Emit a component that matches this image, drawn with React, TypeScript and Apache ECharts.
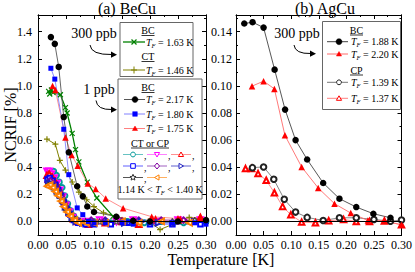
import React, { useEffect, useRef } from 'react';
import * as echarts from 'echarts';

const FONT = "'Liberation Serif', serif";

// ---------- (a) BeCu ----------
// 300 ppb, BC, T_F = 1.63 K (green crosses)
const becu300BC: number[][] = [[0.019,0.96],[0.021,0.94],[0.024,0.97],[0.027,0.95],[0.040,0.935],[0.049,0.84],[0.052,0.80],[0.061,0.65],[0.067,0.53],[0.073,0.44],[0.088,0.29],[0.105,0.173],[0.134,0.037],[0.17,-0.01],[0.2,-0.01],[0.25,0.0],[0.3,0.0]];
// 300 ppb, CT, T_F = 1.46 K (olive plus)
const becu300CT: number[][] = [[0.016,0.607],[0.031,0.57],[0.039,0.45],[0.049,0.378],[0.061,0.291],[0.073,0.217],[0.087,0.16],[0.1,0.11],[0.117,0.064],[0.14,0.035],[0.17,0.01],[0.197,0.002],[0.218,-0.06],[0.27,0.03],[0.3,0.01]];
// 1 ppb, BC
const becu1BC217: number[][] = [[0.023,1.36],[0.030,1.31],[0.037,1.14],[0.046,0.77],[0.055,0.51],[0.070,0.26],[0.080,0.185],[0.088,0.11],[0.100,0.07],[0.140,0.035],[0.17,0.005],[0.2,0.0],[0.25,0.0],[0.3,0.01]];
const becu1BC180: number[][] = [[0.023,1.13],[0.030,1.05],[0.046,0.68],[0.055,0.345],[0.070,0.10],[0.080,0.05],[0.09,0.0],[0.1,-0.01],[0.12,-0.01],[0.15,-0.01],[0.17,-0.02],[0.2,-0.01],[0.24,-0.01],[0.28,-0.01],[0.3,-0.02]];
const becu1BC175: number[][] = [[0.026,1.0],[0.031,0.97],[0.049,0.62],[0.060,0.49],[0.071,0.41],[0.089,0.28],[0.103,0.24],[0.121,0.17],[0.152,0.098],[0.203,0.035],[0.254,0.02],[0.289,0.03]];
// 1 ppb, CT or CP (1.14 K < T_F < 1.40 K)
const cpTeal: number[][] = [[0.022,0.35],[0.028,0.37],[0.033,0.34],[0.038,0.29],[0.043,0.25],[0.048,0.19],[0.053,0.13],[0.058,0.08],[0.064,0.04],[0.07,0.01],[0.08,-0.01],[0.1,0.0],[0.13,-0.01],[0.16,0.0],[0.19,-0.01],[0.22,0.0],[0.26,-0.01],[0.3,0.0]];
const cpMagenta: number[][] = [[0.016,0.37],[0.02,0.37],[0.024,0.35],[0.029,0.32],[0.034,0.28],[0.039,0.23],[0.044,0.18],[0.05,0.12],[0.056,0.07],[0.062,0.03],[0.07,0.0],[0.085,0.0],[0.11,0.01],[0.14,0.0],[0.17,0.01],[0.21,0.0],[0.25,0.01],[0.29,0.01]];
const cpRedOpen: number[][] = [[0.016,0.34],[0.02,0.35],[0.025,0.33],[0.03,0.3],[0.035,0.26],[0.04,0.22],[0.045,0.17],[0.051,0.11],[0.057,0.06],[0.063,0.02],[0.07,0.0],[0.09,-0.02],[0.12,-0.01],[0.15,0.0],[0.18,-0.02],[0.21,0.01],[0.25,0.01],[0.29,0.03]];
const cpBlueOpen: number[][] = [[0.017,0.31],[0.021,0.32],[0.026,0.3],[0.031,0.27],[0.036,0.23],[0.041,0.19],[0.046,0.14],[0.052,0.09],[0.058,0.05],[0.064,0.01],[0.072,-0.01],[0.085,-0.02],[0.1,-0.02],[0.13,-0.02],[0.16,-0.01],[0.2,-0.02],[0.24,-0.02],[0.29,-0.02]];
const cpPurple: number[][] = [[0.018,0.29],[0.022,0.3],[0.027,0.28],[0.032,0.25],[0.037,0.22],[0.042,0.18],[0.047,0.13],[0.053,0.08],[0.059,0.04],[0.066,0.01],[0.075,0.0],[0.095,0.01],[0.12,0.01],[0.15,0.0],[0.18,0.01],[0.22,0.01],[0.26,0.01]];
const cpViolet: number[][] = [[0.019,0.28],[0.024,0.28],[0.029,0.26],[0.034,0.23],[0.039,0.2],[0.044,0.16],[0.049,0.11],[0.055,0.07],[0.061,0.03],[0.068,0.0],[0.08,-0.01],[0.1,-0.01],[0.125,0.0],[0.155,-0.01],[0.185,0.0],[0.215,-0.01],[0.245,-0.01],[0.28,0.0]];
const cpStar: number[][] = [[0.018,0.27],[0.023,0.27],[0.028,0.25],[0.033,0.22],[0.038,0.19],[0.043,0.15],[0.049,0.1],[0.055,0.06],[0.062,0.03],[0.07,0.01],[0.085,0.0],[0.11,0.0],[0.14,0.0],[0.17,-0.01],[0.2,0.0],[0.24,0.0],[0.28,0.01]];
const cpOrange: number[][] = [[0.017,0.26],[0.021,0.27],[0.026,0.25],[0.031,0.22],[0.036,0.19],[0.041,0.15],[0.046,0.11],[0.052,0.07],[0.058,0.04],[0.065,0.01],[0.072,-0.01],[0.085,-0.01],[0.1,-0.01],[0.12,-0.01],[0.15,0.0],[0.18,-0.01],[0.22,0.0],[0.27,-0.01]];

// ---------- (b) AgCu ----------
const agBC188: number[][] = [[0.015,0.146],[0.03,0.147],[0.05,0.143],[0.07,0.112],[0.089,0.0825],[0.108,0.060],[0.129,0.0457],[0.158,0.0284],[0.1875,0.0168],[0.218,0.0106],[0.249,0.0057],[0.28,0.0027]];
const agBC220: number[][] = [[0.029,0.0998],[0.05,0.1035],[0.0696,0.0978],[0.0887,0.0635],[0.119,0.0402],[0.149,0.0247],[0.1786,0.0131],[0.208,0.0062],[0.239,0.0007],[0.269,0.0005],[0.30,-0.0025]];
const agCP139: number[][] = [[0.0298,0.0397],[0.05,0.0402],[0.0685,0.0311],[0.0875,0.0163],[0.108,0.0069],[0.129,0.003],[0.158,0.0007],[0.1875,0.0027],[0.218,0.0027],[0.25,0.0015],[0.28,0.0002],[0.30,0.001]];
const agCP137: number[][] = [[0.0173,0.039],[0.028,0.039],[0.04,0.0353],[0.0548,0.0304],[0.0696,0.0212],[0.0845,0.0111],[0.0994,0.0049],[0.119,-0.0005],[0.144,-0.001],[0.168,0.0005],[0.195,0.0015],[0.218,0.0],[0.242,0.0],[0.269,0.0003],[0.30,-0.0025]];

// ---------- ticks ----------
const leftYMajor = [0, 0.2, 0.4, 0.6, 0.8, 1.0, 1.2, 1.4];
const leftYMinor = [-0.1, 0.1, 0.3, 0.5, 0.7, 0.9, 1.1, 1.3, 1.5];
const rightYMajor = [0, 0.02, 0.04, 0.06, 0.08, 0.10, 0.12, 0.14];
const rightYMinor = [-0.01, 0.01, 0.03, 0.05, 0.07, 0.09, 0.11, 0.13, 0.15];

const X_SYM = 'path://M0,0L10,10M10,0L0,10';
const PLUS_SYM = 'path://M5,0L5,10M0,5L10,5';
const STAR_SYM = 'path://M5,0L6.2,3.6L10,3.7L7,6L8.1,9.6L5,7.5L1.9,9.6L3,6L0,3.7L3.8,3.6Z';

function mkSeries(name: string, data: number[][], xi: number, yi: number, symbol: string, size: number,
  color: string, lineColor: string, opts: any = {}) {
  const empty = symbol.startsWith('empty') || opts.hollow;
  const strokeSym = symbol === X_SYM || symbol === PLUS_SYM;
  return {
    type: 'line', name, data, xAxisIndex: xi, yAxisIndex: yi,
    symbol, symbolSize: size, symbolRotate: opts.rotate || 0,
    showAllSymbol: true,
    lineStyle: { color: lineColor, width: opts.lw || 0.9 },
    itemStyle: strokeSym
      ? { color: 'rgba(0,0,0,0)', borderColor: color, borderWidth: 1.2 }
      : empty
        ? { color: opts.hollow ? '#fff' : color, borderColor: color, borderWidth: 1 }
        : { color, borderWidth: 0 },
    z: opts.z || 2,
    ...(opts.markZero ? {
      markLine: {
        silent: true, symbol: 'none', animation: false,
        lineStyle: { color: '#000', width: 1, type: 'solid' },
        label: { show: false }, data: [{ yAxis: 0 }],
      },
    } : {}),
  };
}

function xAxes(gridIndex: number) {
  const base = {
    type: 'value', gridIndex, min: 0, max: 0.3, interval: 0.05,
    axisLine: { onZero: false, lineStyle: { color: '#000', width: 1 } },
    axisTick: { inside: true, length: 4, lineStyle: { color: '#000' } },
    minorTick: { show: true, splitNumber: 2, length: 2, lineStyle: { color: '#000' } },
    splitLine: { show: false },
  };
  return [
    { ...base, position: 'bottom', axisLabel: { formatter: (v: number) => v.toFixed(2), fontFamily: FONT, fontSize: 12, color: '#000', margin: 4 } },
    { ...base, position: 'top', axisLabel: { show: false } },
  ];
}

function yAxes(gridIndex: number, min: number, max: number, major: number[], minor: number[], digits: number, margin: number) {
  const mk = (position: string, vals: number[], len: number, label: boolean) => ({
    type: 'value', gridIndex, min, max, position,
    axisLine: { onZero: false, lineStyle: { color: '#000', width: 1 } },
    axisTick: { inside: true, length: len, customValues: vals, lineStyle: { color: '#000' } },
    axisLabel: label
      ? { customValues: vals, formatter: (v: number) => v.toFixed(digits), fontFamily: FONT, fontSize: 12, color: '#000', margin }
      : { show: false },
    splitLine: { show: false },
  });
  return [
    mk('left', major, 4, true),
    mk('left', minor, 2, false),
    mk('right', major, 4, false),
    mk('right', minor, 2, false),
  ];
}

const RICH = {
  i: { fontStyle: 'italic', fontSize: 10, fontFamily: FONT, fill: '#000' },
  s: { fontStyle: 'italic', fontSize: 6.5, fontFamily: FONT, fill: '#000', verticalAlign: 'bottom', lineHeight: 13 },
};

function buildGraphic() {
  const g: any[] = [];
  const Z = 100;
  const text = (x: number, y: number, t: string, opt: any = {}) =>
    g.push({ type: 'text', x, y, z: Z, style: { text: t, fontFamily: FONT, fontSize: 10, fill: '#000', align: 'left', verticalAlign: 'middle', ...opt } });
  const line = (x1: number, y1: number, x2: number, y2: number, stroke: string, lw = 1) =>
    g.push({ type: 'line', z: Z, shape: { x1, y1, x2, y2 }, style: { stroke, lineWidth: lw } });
  const box = (x: number, y: number, w: number, h: number) =>
    g.push({ type: 'rect', z: Z - 1, shape: { x, y, width: w, height: h }, style: { fill: '#fff', stroke: '#666', lineWidth: 1 } });
  const header = (cx: number, cy: number, t: string, w: number) => {
    text(cx, cy, t, { align: 'center' });
    line(cx - w / 2, cy + 5, cx + w / 2, cy + 5, '#000', 0.8);
  };
  const tri = (cx: number, cy: number, r: number, angle: number) => {
    const pts: number[][] = [];
    for (let k = 0; k < 3; k++) {
      const a = angle + (k * 2 * Math.PI) / 3;
      pts.push([cx + r * Math.cos(a), cy + r * Math.sin(a)]);
    }
    return pts;
  };
  const marker = (kind: string, cx: number, cy: number, c: string, filled: boolean) => {
    const style = filled ? { fill: c, stroke: c, lineWidth: 0.5 } : { fill: '#fff', stroke: c, lineWidth: 1 };
    if (kind === 'circle') g.push({ type: 'circle', z: Z + 1, shape: { cx, cy, r: filled ? 3 : 2.4 }, style });
    else if (kind === 'square') g.push({ type: 'rect', z: Z + 1, shape: { x: cx - 2.3, y: cy - 2.3, width: 4.6, height: 4.6 }, style });
    else if (kind === 'up') g.push({ type: 'polygon', z: Z + 1, shape: { points: tri(cx, cy + 0.5, 3, -Math.PI / 2) }, style });
    else if (kind === 'down') g.push({ type: 'polygon', z: Z + 1, shape: { points: tri(cx, cy - 0.5, 3, Math.PI / 2) }, style });
    else if (kind === 'right') g.push({ type: 'polygon', z: Z + 1, shape: { points: tri(cx - 0.5, cy, 3, 0) }, style });
    else if (kind === 'left') g.push({ type: 'polygon', z: Z + 1, shape: { points: tri(cx + 0.5, cy, 3, Math.PI) }, style });
    else if (kind === 'diamond') g.push({ type: 'polygon', z: Z + 1, shape: { points: [[cx, cy - 3], [cx + 2.5, cy], [cx, cy + 3], [cx - 2.5, cy]] }, style });
    else if (kind === 'star') {
      const pts: number[][] = [];
      for (let k = 0; k < 10; k++) {
        const r = k % 2 === 0 ? 3.2 : 1.4;
        const a = -Math.PI / 2 + (k * Math.PI) / 5;
        pts.push([cx + r * Math.cos(a), cy + r * Math.sin(a)]);
      }
      g.push({ type: 'polygon', z: Z + 1, shape: { points: pts }, style });
    } else if (kind === 'x') {
      line(cx - 2.5, cy - 2.5, cx + 2.5, cy + 2.5, c, 1.2);
      line(cx + 2.5, cy - 2.5, cx - 2.5, cy + 2.5, c, 1.2);
    } else if (kind === 'plus') {
      line(cx - 3, cy, cx + 3, cy, c, 1);
      line(cx, cy - 3.5, cx, cy + 3.5, c, 1);
    }
  };
  const entry = (x1: number, x2: number, mx: number, y: number, kind: string, mc: string, lc: string, filled: boolean, lw = 1) => {
    line(x1, y, x2, y, lc, lw);
    marker(kind, mx, y, mc, filled);
  };
  const tf = (x: number, y: number, val: string) => text(x, y, `{i|T}{s|F} = ${val} K`, { rich: RICH });

  // Titles and axis names
  text(127, 8, '(a) BeCu', { fontSize: 16, align: 'center' });
  text(325, 8, '(b) AgCu', { fontSize: 16, align: 'center' });
  g.push({ type: 'text', x: 10, y: 125, rotation: Math.PI / 2, z: Z, style: { text: 'NCRIF [%]', fontFamily: FONT, fontSize: 16, fill: '#000', align: 'center', verticalAlign: 'middle' } });
  text(221, 259, 'Temperature [K]', { fontSize: 16, align: 'center' });

  // annotations with curved arrows
  const arrow = (x1: number, y1: number, cx: number, cy: number, x2: number, y2: number) => {
    g.push({ type: 'bezierCurve', z: Z, shape: { x1, y1, x2, y2, cpx1: cx, cpy1: cy }, style: { stroke: '#000', lineWidth: 1, fill: 'none' } });
    g.push({ type: 'polygon', z: Z, shape: { points: [[x2 - 1, y2 - 3], [x2 + 5, y2 + 0.3], [x2 - 1, y2 + 3.3]] }, style: { fill: '#000' } });
  };
  text(94, 33, '300 ppb', { fontSize: 14, align: 'center' });
  arrow(90, 45, 91, 55, 112, 54.5);
  text(99, 89, '1 ppb', { fontSize: 14, align: 'center' });
  arrow(96, 100.5, 97, 110, 112, 109.5);
  text(297, 33, '300 ppb', { fontSize: 14, align: 'center' });
  arrow(294, 45, 295, 54, 311, 53.5);

  // Left box 1 (300 ppb)
  box(120, 22.5, 73, 54);
  header(148, 30.5, 'BC', 13);
  entry(123, 145, 134, 42, 'x', '#008000', '#008000', true, 1.3);
  tf(146, 42, '1.63');
  header(148, 56.5, 'CT', 13);
  entry(123, 145, 134, 70, 'plus', '#808000', '#808000', true, 1);
  tf(146, 70, '1.46');

  // Left box 2 (1 ppb)
  box(118, 79, 84, 120);
  header(148, 87.5, 'BC', 13);
  entry(124, 145, 135, 99.5, 'circle', '#000', '#555', true);
  tf(146, 99.5, '2.17');
  entry(124, 145, 135, 114, 'square', '#0000ff', '#8080ff', true);
  tf(146, 114, '1.80');
  entry(124, 145, 135, 128.5, 'up', '#ff0000', '#ff8080', true);
  tf(146, 128.5, '1.75');
  header(150, 143, 'CT or CP', 38);
  const rows: [string, string, string][][] = [
    [['circle', '#009999', '#66c2c2'], ['down', '#ff00ff', '#ff80ff'], ['up', '#ff0000', '#ff9090']],
    [['square', '#0000ff', '#6060ff'], ['diamond', '#8000a0', '#a060c0'], ['right', '#2020c0', '#6060d0']],
    [['star', '#333333', '#555555'], ['left', '#ff8000', '#ffb060']],
  ];
  const rowY = [154.5, 166, 177.5];
  rows.forEach((row, ri) => {
    row.forEach((it, k) => {
      const x0 = 123 + k * 24;
      entry(x0, x0 + 20, x0 + 10, rowY[ri], it[0], it[1], it[2], false);
      if (ri < 2 || k === 0) text(x0 + 21, rowY[ri] + 1, ',', { fontSize: 10 });
    });
  });
  text(160, 189.5, '1.14 K < {i|T}{s|F} < 1.40 K', { rich: RICH, align: 'center' });

  // Right box
  box(322.5, 21.5, 78, 88);
  header(356.5, 30, 'BC', 13);
  entry(327, 348, 339, 41.7, 'circle', '#000', '#444', true);
  tf(351, 41.7, '1.88');
  entry(327, 348, 339, 54, 'up', '#ff0000', '#ff6a6a', true);
  tf(351, 54, '2.20');
  header(356.5, 70, 'CP', 13);
  entry(327, 348, 339, 82.3, 'circle', '#222', '#777', false);
  tf(351, 82.3, '1.39');
  entry(327, 348, 339, 98.3, 'up', '#ff0000', '#ff8080', false);
  tf(351, 98.3, '1.37');

  return g;
}

export default function App() {
  const ref = useRef<HTMLDivElement>(null);
  useEffect(() => {
    if (!ref.current) return;
    const chart = echarts.init(ref.current, undefined, { renderer: 'svg' });
    const option: any = {
      animation: false,
      backgroundColor: '#fff',
      textStyle: { fontFamily: FONT },
      grid: [
        { left: 38, top: 15, width: 168, height: 220, containLabel: false },
        { left: 236, top: 15, width: 168, height: 220, containLabel: false },
      ],
      xAxis: [...xAxes(0), ...xAxes(1)],
      yAxis: [
        ...yAxes(0, -0.1, 1.523, leftYMajor, leftYMinor, 1, 6),
        ...yAxes(1, -0.01, 0.1523, rightYMajor, rightYMinor, 2, 4),
      ],
      series: [
        // (a) BeCu
        mkSeries('cpTeal', cpTeal, 0, 0, 'emptyCircle', 5, '#009999', '#66c2c2', { markZero: true }),
        mkSeries('cpMagenta', cpMagenta, 0, 0, 'emptyTriangle', 5.5, '#ff00ff', '#ff80ff', { rotate: 180 }),
        mkSeries('cpRedOpen', cpRedOpen, 0, 0, 'emptyTriangle', 5.5, '#ff0000', '#ff9090'),
        mkSeries('cpBlueOpen', cpBlueOpen, 0, 0, 'emptyRect', 4.5, '#0000ff', '#6060ff'),
        mkSeries('cpPurple', cpPurple, 0, 0, 'emptyDiamond', 5.5, '#8000a0', '#a060c0'),
        mkSeries('cpViolet', cpViolet, 0, 0, 'emptyTriangle', 5.5, '#2020c0', '#6060d0', { rotate: -90 }),
        mkSeries('cpStar', cpStar, 0, 0, STAR_SYM, 6, '#333333', '#555555', { hollow: true }),
        mkSeries('cpOrange', cpOrange, 0, 0, 'emptyTriangle', 5.5, '#ff8000', '#ffb060', { rotate: 90 }),
        mkSeries('becu300CT', becu300CT, 0, 0, PLUS_SYM, 6, '#808000', '#808000', { lw: 1 }),
        mkSeries('becu300BC', becu300BC, 0, 0, X_SYM, 5, '#008000', '#008000', { lw: 1.3 }),
        mkSeries('becu1BC175', becu1BC175, 0, 0, 'triangle', 6.5, '#ff0000', '#ff8080'),
        mkSeries('becu1BC180', becu1BC180, 0, 0, 'rect', 5, '#0000ff', '#8080ff'),
        mkSeries('becu1BC217', becu1BC217, 0, 0, 'circle', 6.5, '#000000', '#555555'),
        // (b) AgCu
        mkSeries('agCP137', agCP137, 2, 4, 'emptyTriangle', 5.5, '#ff0000', '#ff8080', { markZero: true }),
        mkSeries('agCP139', agCP139, 2, 4, 'emptyCircle', 5.5, '#222222', '#777777'),
        mkSeries('agBC220', agBC220, 2, 4, 'triangle', 6.5, '#ff0000', '#ff6a6a'),
        mkSeries('agBC188', agBC188, 2, 4, 'circle', 6.5, '#000000', '#444444'),
      ],
      graphic: { elements: buildGraphic() },
    };
    chart.setOption(option);
    return () => chart.dispose();
  }, []);
  return <div ref={ref} style={{ position: 'absolute', left: 0, top: 0, width: 415, height: 272, background: '#fff' }} />;
}
